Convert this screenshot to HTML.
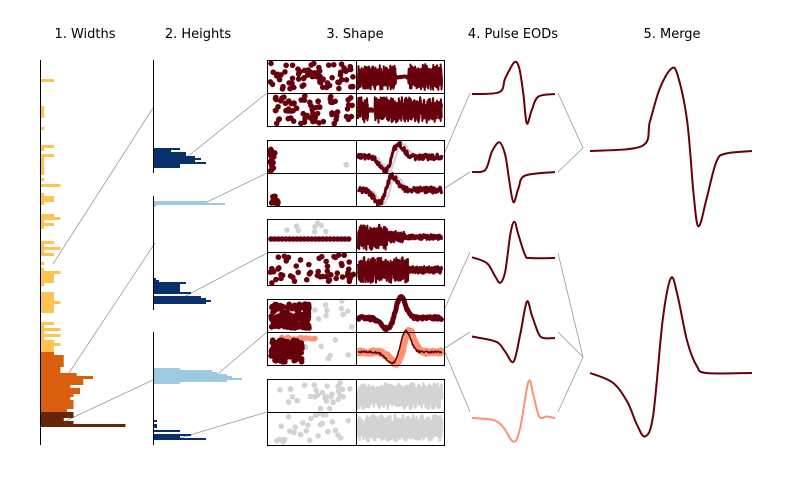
<!DOCTYPE html>
<html><head><meta charset="utf-8"><style>
html,body{margin:0;padding:0;background:#fff;}
svg{display:block;font-family:"DejaVu Sans","Liberation Sans",sans-serif;}
</style></head><body>
<svg id="fig" width="800" height="500" viewBox="0 0 800 500" xmlns="http://www.w3.org/2000/svg">
<g font-size="13" fill="#000" text-anchor="middle">
<text x="85" y="38">1. Widths</text>
<text x="198" y="38">2. Heights</text>
<text x="355" y="38">3. Shape</text>
<text x="513" y="38">4. Pulse EODs</text>
<text x="672" y="38">5. Merge</text>
</g>
<g id="conn"></g>
<g id="widths"></g>
<g id="heights"></g>
<g id="shape"></g>
<g id="eods"></g>
<g id="merge"></g>
</svg>
<script>
// ---- Widths histogram data (counts per 3px bin, top to bottom) ----
const widthsYellow = [0,4,0,0,0,0,0,0,0,0,1,1,1,1,0,0,0,1,0,0,0,0,0,4,1,0,4,1,1,1,1,1,1,0,1,0,6,0,0,1,4,4,1,0,0,0,4,6,1,4,1,0,0,0,0,4,1,6,1,4,0,0,1,0,1,6,4,4,4,1,0,0,4,4,4,6,4,4,4,0,0,0,4,1,6,1,6,1,4,6,4,4];
const widthsOrange = [4,7,7,7,7,6,6,11,16,13,13,9,12,12,10,9,10,10,10,8];
const widthsBrown = [10,10,7,10,26];
// ---- Heights histogram data (counts per 2px bin) ----
const heights1Navy = [26,17,32,32,41,47,41,52,26,26];
const heights2Light = [53,71,2];
const heights2Navy = [2,5,32,26,26,26,26,37,0,47,52,57,52];
const heights3Light = [26,58,63,73,78,88,73,26];
const heights3Navy = [3,0,3,3,0,26,0,37,26,52];
// ---- EOD waveforms (normalised time, amplitude) ----
const eod1Time = [0,0.33,0.40,0.51,0.57,0.62,0.66,0.72,0.80,1];
const eod1 = [0,0.06,0.49,0.99,0.8,-0.03,-0.92,-0.5,-0.08,0];
const eod2Time = [0,0.16,0.24,0.33,0.40,0.45,0.50,0.56,0.64,1];
const eod2 = [0,0.07,0.68,0.99,0.57,-0.32,-1.01,-0.54,-0.12,0];
const eod3Time = [0,0.18,0.28,0.34,0.40,0.46,0.51,0.56,0.64,0.70,1];
const eod3 = [0.02,-0.14,-0.5,-0.67,-0.37,0.62,0.98,0.62,0.08,0,0];
const eod4Time = [0,0.29,0.40,0.50,0.58,0.66,0.72,0.80,0.86,1];
const eod4 = [0.04,-0.1,-0.37,-0.64,0.08,0.98,0.62,0.13,0,0];
const eod5Time = [0,0.25,0.37,0.50,0.58,0.68,0.74,0.81,0.90,1];
const eod5 = [0,-0.05,-0.23,-0.64,-0.28,0.98,0.62,0.04,0.04,0];
const merge1Time = [0,0.32,0.37,0.43,0.50,0.54,0.60,0.64,0.67,0.72,0.78,0.84,1];
const merge1 = [0,0.06,0.36,0.76,1,0.93,0.36,-0.54,-0.92,-0.58,-0.13,-0.03,0];
const merge2Time = [0,0.14,0.23,0.29,0.34,0.39,0.45,0.50,0.54,0.60,0.66,0.72,1];
const merge2 = [0,-0.1,-0.3,-0.54,-0.66,-0.44,0.57,0.99,0.81,0.33,0.07,0,0];

const NS="http://www.w3.org/2000/svg";
function mk(parent,tag,attrs){const e=document.createElementNS(NS,tag);for(const k in attrs)e.setAttribute(k,attrs[k]);parent.appendChild(e);return e;}
const gW=document.getElementById('widths'),gH=document.getElementById('heights'),gS=document.getElementById('shape'),gE=document.getElementById('eods'),gM=document.getElementById('merge'),gC=document.getElementById('conn');

// widths
const wx=v=>41+v*3.25, wBin=3, wTop=76;
function wBars(arr,start,color,name){arr.forEach((v,i)=>{if(!v)return;const r=mk(gW,'rect',{x:41,y:wTop+(start+i)*wBin,width:wx(v)-41,height:wBin,fill:color});

});}
wBars(widthsYellow,0,'#fec44f','width-bar-yellow');
wBars(widthsOrange,widthsYellow.length,'#d95f0e','width-bar-orange');
wBars(widthsBrown,widthsYellow.length+widthsOrange.length,'#662506','width-bar-brown');
const wa=mk(gW,'line',{x1:40.5,y1:60,x2:40.5,y2:445,stroke:'#000','stroke-width':1});



// heights
const hx=v=>154+v;
function hBars(arr,y0,color,name){arr.forEach((v,i)=>{if(!v)return;const r=mk(gH,'rect',{x:154,y:y0+i*2,width:hx(v)-154,height:2,fill:color});

});}
hBars(heights1Navy,148,'#08306b','height-bar-navy');
hBars(heights2Light,201,'#9ecae1','height-bar-light');
hBars(heights2Navy,278,'#08306b','height-bar-navy');
hBars(heights3Light,368,'#9ecae1','height-bar-light');
hBars(heights3Navy,420,'#08306b','height-bar-navy');
[[60,173],[196,310],[332,445]].forEach(s=>{const l=mk(gH,'line',{x1:153.5,y1:s[0],x2:153.5,y2:s[1],stroke:'#000','stroke-width':1});

});

// connectors
const conns=[[53,264,153,108],[61,385,155,243],[57,425,153,380],[182,161,267,93],[207,202,267,173],[180,299,267,253],[213,378,267,332],[180,438,267,412],[445,152,470,93],[445,188,470,172],[445,308,470,252],[445,348,470,332],[445,352,470,412],[558,93,583,148],[558,172,583,148],[558,253,583,357],[558,332,583,357],[558,412,583,357]];
conns.forEach(c=>{const l=mk(gC,'line',{x1:c[0],y1:c[1],x2:c[2],y2:c[3],stroke:'#999','stroke-width':0.8});

});

// shape panels (decorative texture)
const h=i=>{const s=Math.sin(i*12.9898+78.233)*43758.5453;return s-Math.floor(s);};
const RED='#67000d',GRAY='#d3d3d3',SAL='#fc9272';
const boxes=[60,140,219,299,379];
let seed=1;
function dots(x0,y0,w,hh,n,color){for(let i=0;i<n;i++){const c=mk(gS,'circle',{cx:x0+h(seed++)*w,cy:y0+h(seed++)*hh,r:2.8,fill:color});

}}
function noise(x0,yc,w,amp,color,sw,shape,n){n=n||320;let pts=[];for(let i=0;i<=n;i++){const t=i/n;let a=(h(seed++)-0.5)*2*amp(t);let s=shape?shape(t):0;pts.push((x0+t*w).toFixed(1)+','+(yc+s+a).toFixed(1));}
const p=mk(gS,'polyline',{points:pts.join(' '),fill:'none',stroke:color,'stroke-width':sw,'stroke-linejoin':'round'});

}
const L=268,RX=358,W=84,RW=84;
// box1
dots(L+2,63,W,26,70,RED);dots(L+2,96,W,28,70,RED);
noise(RX,77,RW,t=>(t>0.45&&t<0.6)?1.5:13,RED,2);noise(RX,77,RW,t=>(t>0.45&&t<0.6)?1.5:9,RED,2);
noise(RX,110,RW,t=>(t>0.12&&t<0.2)?2:13,RED,2);noise(RX,110,RW,t=>(t>0.12&&t<0.2)?2:9,RED,2);
// box2
dots(L+1,143,6,28,18,RED);dots(270,196,8,8,10,RED);dots(345,160,5,30,2,GRAY);
const pulse=(c,a)=>t=>{const d=(t-c)/0.08;return a*(-d*Math.exp(-d*d/2))*1.6;};
noise(RX,157,RW,t=>1.5,GRAY,2,pulse(0.45,14),120);noise(RX,157,RW,t=>3,RED,3,pulse(0.4,14),120);
noise(RX,190,RW,t=>1.5,GRAY,2,pulse(0.38,14),120);noise(RX,190,RW,t=>3,RED,3,pulse(0.33,14),120);
// box3
dots(L+5,222,60,12,8,GRAY);
for(let i=0;i<22;i++){const c=mk(gS,'circle',{cx:L+3+i*3.7,cy:239,r:2.8,fill:RED});}
dots(L+2,255,W,28,55,RED);
noise(RX,237,RW,t=>t<0.35?13:(t<0.55?6:3),RED,2);noise(RX,237,RW,t=>t<0.35?9:(t<0.55?4:2),RED,2);
noise(RX,270,RW,t=>t<0.6?13:4,RED,2);noise(RX,270,RW,t=>t<0.6?9:3,RED,2);
// box4
dots(L+25,300,60,30,14,GRAY);dots(L+25,335,60,30,8,GRAY);
for(let k=0;k<160;k++){const c=mk(gS,'circle',{cx:L+3+h(seed++)*38,cy:304+h(seed++)*24,r:2.8,fill:RED});}
for(let k=0;k<12;k++){const c=mk(gS,'circle',{cx:L+14+k*3,cy:337+h(seed++)*3,r:2.8,fill:SAL});}
for(let k=0;k<130;k++){const c=mk(gS,'circle',{cx:L+3+h(seed++)*32,cy:340+h(seed++)*22,r:2.8,fill:RED});}
const eodShape=(c,a)=>t=>{const d1=(t-(c-0.12))/0.09,d2=(t-c)/0.06;return a*(0.5*Math.exp(-d1*d1/2)-Math.exp(-d2*d2/2));};
noise(RX,318,RW,t=>1.5,RED,5,eodShape(0.5,26),120);
noise(RX,352,RW,t=>1.5,SAL,7,eodShape(0.6,26),120);noise(RX,352,RW,t=>1,RED,1.5,eodShape(0.56,26),120);
// box5
dots(L+8,382,W-10,28,30,GRAY);dots(L+8,414,W-10,28,28,GRAY);
noise(RX,396,RW,t=>13,GRAY,2.5);noise(RX,396,RW,t=>9,GRAY,2.5);noise(RX,428,RW,t=>13,GRAY,2.5);noise(RX,428,RW,t=>9,GRAY,2.5);
boxes.forEach(y=>{const r=mk(gS,'rect',{x:267.5,y:y+0.5,width:177,height:66,fill:'none',stroke:'#000','stroke-width':1});


const a=mk(gS,'line',{x1:356.5,y1:y,x2:356.5,y2:y+67,stroke:'#000','stroke-width':1});


const b=mk(gS,'line',{x1:267,y1:y+33.5,x2:445,y2:y+33.5,stroke:'#000','stroke-width':1});

});

// EOD waveforms
function smoothPath(xs,ys){let d='M'+xs[0].toFixed(1)+','+ys[0].toFixed(1);for(let i=0;i<xs.length-1;i++){const x0=xs[Math.max(i-1,0)],y0=ys[Math.max(i-1,0)],x1=xs[i],y1=ys[i],x2=xs[i+1],y2=ys[i+1],x3=xs[Math.min(i+2,xs.length-1)],y3=ys[Math.min(i+2,xs.length-1)];
d+=' C'+(x1+(x2-x0)/6).toFixed(1)+','+(y1+(y2-y0)/6).toFixed(1)+' '+(x2-(x3-x1)/6).toFixed(1)+','+(y2-(y3-y1)/6).toFixed(1)+' '+x2.toFixed(1)+','+y2.toFixed(1);}return d;}
function wave(g,time,vals,x0,w,yBase,scale,color,sw,name){const xs=time.map(t=>x0+t*w),ys=vals.map(v=>yBase-v*scale);
const p=mk(g,'path',{d:smoothPath(xs,ys),fill:'none',stroke:color,'stroke-width':sw});

}
wave(gE,eod1Time,eod1,472,83,94,32,RED,2,'eod-1');
wave(gE,eod2Time,eod2,472,83,172,30,RED,2,'eod-2');
wave(gE,eod3Time,eod3,472,83,258,37,RED,2,'eod-3');
wave(gE,eod4Time,eod4,472,83,338,37,RED,2,'eod-4');
wave(gE,eod5Time,eod5,472,83,418,37,SAL,2,'eod-5');
wave(gM,merge1Time,merge1,590,162,151,82,RED,2,'merged-eod-1');
wave(gM,merge2Time,merge2,590,162,373,96,RED,2,'merged-eod-2');
</script>
</body></html>
